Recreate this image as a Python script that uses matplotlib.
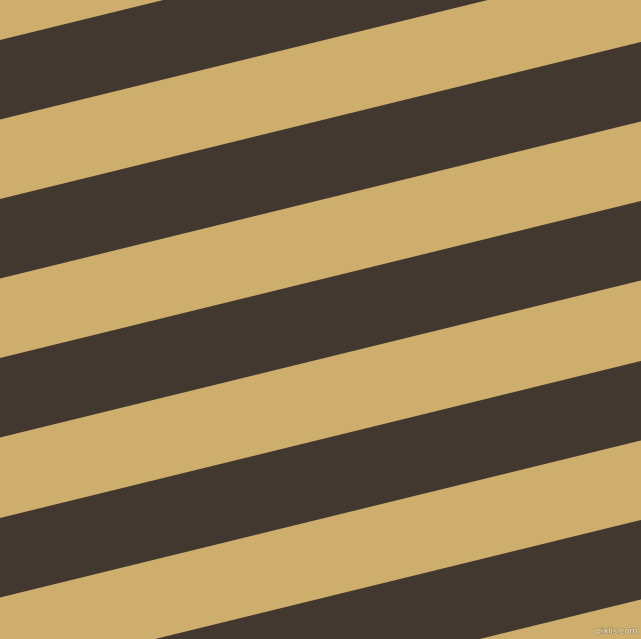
import numpy as np
import matplotlib
matplotlib.use("Agg")
import matplotlib.pyplot as plt
import matplotlib.patheffects as pe

width_px = 641
height_px = 639
slope = 0.245                          # rise of each band per pixel, going right
dark_starts = [40, 199, 358, 518, 677]  # top edge of each dark band at x = 0
band_height = 79.5                     # vertical thickness of one band

tan_color = "#CDAE6D"
dark_color = "#433830"


def main():
    fig = plt.figure(figsize=(width_px / 100, height_px / 100), dpi=100)
    ax = fig.add_axes([0, 0, 1, 1])
    ax.set_facecolor(tan_color)

    x = np.array([0, width_px])
    for y0 in dark_starts:
        top = y0 - slope * x
        bottom = top + band_height
        ax.fill_between(x, top, bottom, color=dark_color, linewidth=0)

    ax.set_xlim(0, width_px)
    ax.set_ylim(height_px, 0)
    ax.axis("off")
    fig.patch.set_facecolor(tan_color)

    ax.text(638, 631, "pixlis.com", fontsize=6, color="#efe6d2",
            ha="right", va="center",
            path_effects=[pe.withStroke(linewidth=1, foreground="#a8905a")])

    fig.savefig("out.png", dpi=100, facecolor=tan_color)
    plt.close(fig)


if __name__ == "__main__":
    main()
